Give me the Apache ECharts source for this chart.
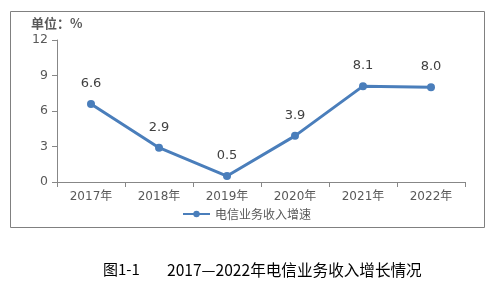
<!DOCTYPE html>
<html>
<head>
<meta charset="utf-8">
<style>
  html, body { margin: 0; padding: 0; background: #fff; }
  #main { width: 497px; height: 296px; }
</style>
<script src="https://cdn.jsdelivr.net/npm/echarts@6/dist/echarts.min.js"></script>
</head>
<body>
<div id="main"></div>
<script>
// 数据
const years = ['2017年', '2018年', '2019年', '2020年', '2021年', '2022年'];
const growth = [6.6, 2.9, 0.5, 3.9, 8.1, 8.0];
const seriesName = '电信业务收入增速';
const yTicks = [0, 3, 6, 9, 12];

const font = '"DejaVu Sans", "Noto Sans CJK SC", sans-serif';
const cjkFont = '"Noto Sans CJK SC", sans-serif';
const lineColor = '#4a7ebb';
const axisColor = '#878787';

const chart = echarts.init(document.getElementById('main'));

chart.setOption({
  animation: false,
  textStyle: { fontFamily: font },
  grid: { left: 57, right: 32, top: 40, bottom: 114 },
  legend: {
    data: [seriesName],
    bottom: 71,
    left: 177,
    itemWidth: 27,
    itemHeight: 8,
    itemGap: 4,
    textStyle: { color: '#595959', fontSize: 12, fontFamily: cjkFont }
  },
  graphic: [
    {
      type: 'rect',
      shape: { x: 10.5, y: 11.5, width: 474, height: 216 },
      style: { fill: 'none', stroke: '#808080', lineWidth: 1 },
      z: -1
    },
    {
      type: 'text',
      left: 31, top: 17,
      style: { text: '单位：%', fill: '#595959', font: 'bold 13px ' + cjkFont }
    },
    {
      type: 'text',
      left: 103, top: 262,
      style: { text: '图1-1', fill: '#000', font: '15px ' + cjkFont }
    },
    {
      type: 'text',
      left: 167, top: 262,
      style: { text: '2017—2022年电信业务收入增长情况', fill: '#000', font: '15.6px ' + cjkFont }
    }
  ],
  xAxis: {
    type: 'category',
    data: years,
    axisLine: { lineStyle: { color: axisColor } },
    axisTick: { show: true, length: 5, lineStyle: { color: axisColor } },
    axisLabel: { color: '#595959', fontSize: 12, margin: 9 }
  },
  yAxis: {
    type: 'value',
    min: yTicks[0],
    max: yTicks[yTicks.length - 1],
    interval: 3,
    splitLine: { show: false },
    axisLine: { show: true, lineStyle: { color: axisColor } },
    axisTick: { show: true, length: 5, lineStyle: { color: axisColor } },
    axisLabel: { color: '#595959', fontSize: 12.5, margin: 9 }
  },
  series: [{
    name: seriesName,
    type: 'line',
    data: growth,
    symbol: 'circle',
    symbolSize: 8,
    lineStyle: { color: lineColor, width: 3 },
    itemStyle: { color: lineColor },
    label: {
      show: true,
      position: 'top',
      distance: 10,
      color: '#404040',
      fontSize: 13,
      formatter: (p) => p.value.toFixed(1)
    }
  }]
});
</script>
</body>
</html>
